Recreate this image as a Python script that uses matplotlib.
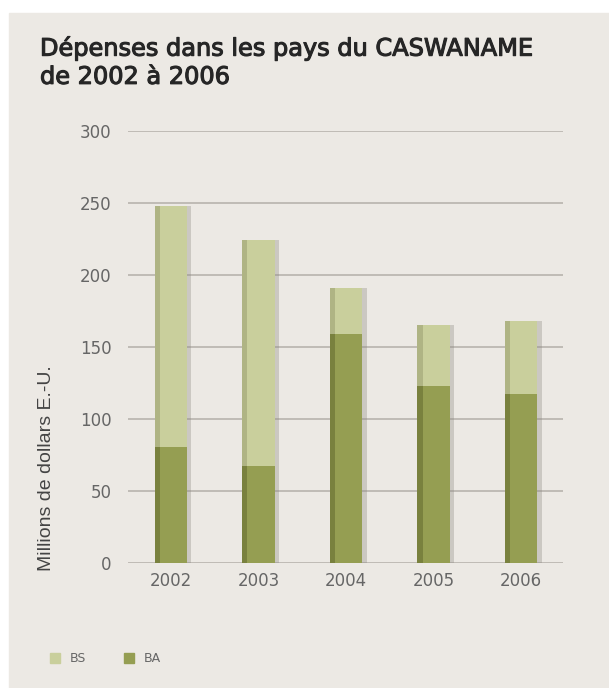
import matplotlib.pyplot as plt
import matplotlib.patches as mpatches
import matplotlib.patheffects as pe
import numpy as np

years = ['2002', '2003', '2004', '2005', '2006']
ba = [80, 67, 159, 123, 117]
bs = [168, 157, 32, 42, 51]   # BS stacked on top of BA
yticks = [0, 50, 100, 150, 200, 250, 300]

c_bs = '#c9cf9c'
c_bs_dark = '#a9ae7f'
c_ba = '#959e52'
c_ba_dark = '#727a3a'
bg = '#ece9e4'
grid_c = '#b8b4ad'
txt = '#666666'

fig = plt.figure(figsize=(6.09, 6.88), dpi=100)
fig.patch.set_facecolor('white')
fig.patches.append(mpatches.Rectangle((9 / 609, 0), 1, (688 - 13) / 688,
                                      transform=fig.transFigure, color=bg, zorder=-10))

ax = fig.add_axes([128 / 609, 1 - 562.5 / 688, (563 - 128) / 609, (562.5 - 131) / 688])
ax.set_facecolor('none')

x = np.arange(len(years))
w = 0.37
tot = np.array(ba) + np.array(bs)

# soft shadow on the right of each bar
ax.bar(x + 0.05, tot, width=w, color='#8f8b85', alpha=0.35, zorder=2)
ax.bar(x, ba, width=w, color=c_ba, zorder=3)
ax.bar(x, bs, width=w, bottom=ba, color=c_bs, zorder=3)
# darker left edge
ax.bar(x - w / 2 + 0.03, ba, width=0.06, color=c_ba_dark, zorder=4, alpha=0.8)
ax.bar(x - w / 2 + 0.03, bs, width=0.06, bottom=ba, color=c_bs_dark, zorder=4, alpha=0.8)

ax.set_xlim(-0.49, 4.48)
ax.set_ylim(0, 300)
ax.set_yticks(yticks)
ax.set_xticks(x)
ax.set_xticklabels(years)
ax.yaxis.grid(True, color=grid_c, linewidth=1.2, zorder=0)
ax.set_axisbelow(True)
for s in ax.spines.values():
    s.set_visible(False)
ax.tick_params(length=0, labelsize=12, labelcolor=txt)
ax.tick_params(axis='y', pad=12)
ax.tick_params(axis='x', pad=7)

fig.text(47 / 609, 1 - 468 / 688, 'Millions de dollars E.-U.', rotation=90,
         ha='center', va='center', fontsize=14, color='#444444',
         family=['Liberation Sans Narrow', 'Liberation Sans'])

fig.text(40 / 609, 1 - 62 / 688, 'Dépenses dans les pays du CASWANAME\nde 2002 à 2006',
         ha='left', va='center', fontsize=17.3, color='#262626', linespacing=1.22,
         path_effects=[pe.withStroke(linewidth=0.8, foreground='#262626')])

# legend
for lx, col, lab in [(50, c_bs, 'BS'), (124, c_ba, 'BA')]:
    fig.patches.append(mpatches.Rectangle((lx / 609, 1 - 663 / 688), 10 / 609, 10 / 688,
                                          transform=fig.transFigure, color=col))
    fig.text((lx + 20) / 609, 1 - 658 / 688, lab, ha='left', va='center',
             fontsize=9, color=txt)

fig.savefig('out.png', dpi=100, facecolor=fig.get_facecolor())
